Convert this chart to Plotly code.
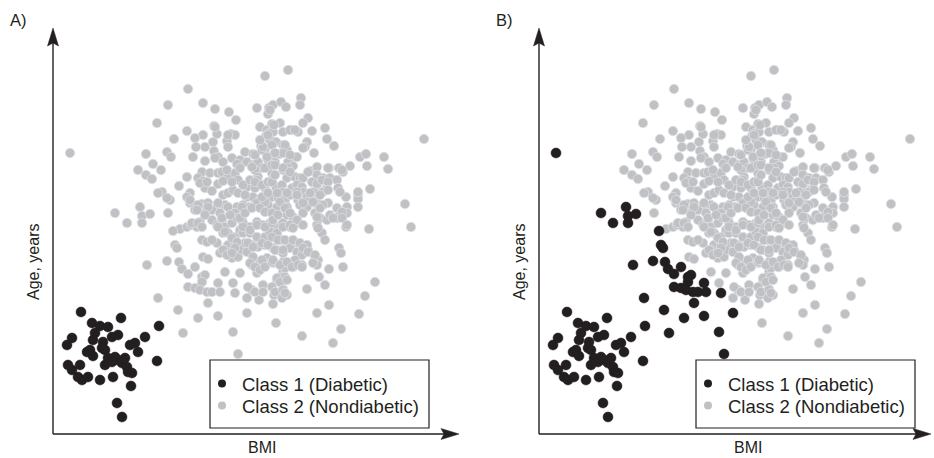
import plotly.graph_objects as go

# ---------------- data (arbitrary BMI / age units) ----------------
# Class 1 (Diabetic) in both panels
diabetic = [(26,120),(66,114),(37,109),(45,106),(53,105),(104,106),(63,97),(57,95),(40,99),(38,92),
            (90,95),(17,94),(12,87),(48,90),(47,84),(50,82),(75,87),(80,89),(83,80),(32,80),(35,82),
            (38,76),(53,74),(60,75),(63,72),(70,74),(67,69),(102,71),(13,67),(17,62),(25,67),(50,67),
            (57,70),(72,65),(73,60),(77,59),(23,55),(27,52),(33,55),(45,52),(58,55),(76,46),(62,29),(67,15)]

# Nondiabetic in panel A, classified as Diabetic in panel B
reclassified = [(15,279),(60,219),(72,209),(85,225),(87,216),(95,218),(87,209),(118,201),(120,187),(122,184),
                (92,167),(112,171),(124,170),(127,163),(133,158),(140,165),(147,155),(150,157),(147,150),
                (133,145),(140,144),(145,142),(152,140),(157,140),(163,149),(165,140),(103,134),(153,129),
                (123,122),(143,114),(163,116),(180,139),(192,119),(128,99),(178,100),(183,78)]

# Class 2 (Nondiabetic) in both panels
nondiabetic = [
 (133,343),(113,327),(148,329),(160,323),(174,320),(181,312),(102,309),(132,301),(159,306),(162,298),(148,297),
 (140,294),(176,298),(180,297),(119,293),(172,291),(158,290),(91,278),(112,280),(116,275),(138,275),(150,285),
 (141,285),(173,285),(159,281),(163,275),(177,274),(185,272),(83,262),(98,268),(106,262),(91,257),(97,253),
 (150,271),(132,255),(147,260),(155,259),(163,259),(167,260),(143,254),(148,251),(173,255),(180,259),(183,252),
 (124,246),(107,240),(103,239),(115,232),(112,234),(135,239),(132,235),(150,244),(157,241),(163,248),(168,237),
 (173,239),(178,242),(135,229),(140,226),(147,228),(153,229),(163,226),(170,227),(182,225),
 (210,356),(233,362),(202,324),(214,324),(218,327),(226,330),(231,325),(246,334),(245,327),(213,318),(253,314),
 (248,309),(205,305),(212,302),(217,308),(225,309),(214,299),(218,300),(228,300),(237,302),(243,300),(257,301),
 (270,304),(272,293),(279,286),(369,293),(252,290),(250,285),(259,279),(211,296),(215,292),(221,290),(228,287),
 (206,286),(210,283),(190,280),(198,278),(218,277),(225,278),(232,282),(238,275),(213,272),(220,270),(233,270),
 (238,266),(305,275),(311,278),(329,275),(312,266),(333,263),(295,266),(274,264),(284,264),(288,260),(255,261),
 (262,265),(262,257),(192,270),(198,267),(203,270),(207,264),(200,262),(217,259),(217,252),(228,262),(233,264),
 (235,257),(232,254),(240,255),(245,254),(203,255),(202,252),(268,254),(275,254),(282,252),(257,250),(262,248),
 (192,245),(200,244),(210,244),(221,245),(227,247),(228,240),(237,244),(242,247),(247,245),(248,240),(257,237),
 (263,239),(270,242),(283,244),(315,243),(303,237),(303,233),(291,235),(192,235),(198,235),(205,232),(217,235),
 (223,234),(230,232),(235,237),(243,232),(252,235),(253,230),(262,229),(273,229),(282,224),(292,225),(350,228),
 (188,227),(195,225),(205,225),(213,227),(222,225),(232,225),(245,227),(252,225),(303,225),
 (113,219),(140,222),(150,219),(157,222),(165,219),(173,225),(180,219),(187,225),(125,203),(132,205),(136,207),
 (142,205),(145,210),(157,212),(162,207),(167,212),(170,205),(177,209),(182,214),(187,212),(168,199),(173,199),
 (180,195),(185,202),(147,192),(152,190),(162,189),(173,187),(180,189),(183,182),(148,175),(153,173),(165,179),
 (170,182),(177,174),(183,175),(187,182),(170,160),(185,159),(178,149),
 (356,205),(314,203),(291,205),(202,229),(210,230),(225,230),(260,229),(268,227),(292,219),(232,217),(238,215),
 (243,209),(248,219),(260,219),(265,214),(272,212),(275,217),(282,214),(285,217),(188,209),(195,205),(202,210),
 (208,207),(215,209),(222,205),(228,209),(235,205),(262,207),(267,199),(270,192),(188,199),(195,199),(202,195),
 (210,195),(215,200),(222,199),(190,189),(197,187),(203,185),(210,187),(218,184),(227,192),(233,190),(240,189),
 (245,185),(253,182),(192,180),(222,182),(228,179),(235,184),(242,180),(247,177),(260,175),(263,172),(262,167),
 (284,184),(286,179),(288,165),(274,163),(198,174),(205,170),(212,174),(197,167),(205,164),(202,159),(218,169),
 (228,170),(235,167),(240,172),(238,165),(247,167),(228,160),(230,164),(222,152),(227,155),(264,155),(270,147),
 (252,143),(208,147),(197,142),(192,134),(204,132),(219,137),(218,128),(228,143),(232,137),(227,134),(274,127),
 (262,119),(221,109),(247,96),(286,103),(278,89),(304,118),(310,136),(320,150),
 (160,305),(173,297),(160,274),(168,270),(182,268),(200,277),(207,282),(212,275),(208,285),(205,292),(213,297),
 (217,287),(197,265),(210,264),(217,267),(172,262),(185,264),(145,249),(152,250),(168,251),(177,250),(188,247),
 (195,252),(200,250),(207,247),(213,250),
 (215,322),(248,284),(242,275),(219,307),(235,302),(240,302),(230,287),(228,279),(220,279),(235,277),(220,267),
 (228,264),(235,260),(248,254),(253,260),(273,264),(287,262),(267,252),(273,250),(217,250),(220,257),(242,240),
 (258,240),(268,240),(303,240),
 (183,239),(190,237),(207,235),(213,239),(135,232),(143,227),(153,225),(163,229),(142,222),(150,217),(167,214),
 (175,217),(185,214),(190,219),(197,224),(205,224),(210,220),(217,219),(137,209),(143,209),(147,205),(163,205),
 (170,200),(177,194),(182,190),(188,205),(195,202),(202,207),(210,205),(217,209),(157,192),(168,182),(180,184),
 (193,189),(198,185),(207,189),(213,187),(217,195),(172,177),(177,179),(198,175),(195,169),(200,165),(207,172),
 (205,162),(210,165),(217,170),(193,145),(200,140),(208,140),(217,145),
 (222,239),(232,239),(242,237),(255,239),(265,237),(273,242),(285,240),(230,224),(248,229),(258,230),(265,224),
 (287,220),(218,212),(223,217),(235,219),(242,212),(248,207),(262,215),(278,214),(287,214),(292,207),(228,205),
 (235,207),(238,204),(263,204),(223,192),(230,192),(238,192),(245,189),(252,187),(220,182),(228,182),(248,184),
 (253,180),(260,177),(258,169),(218,172),(225,167),(232,170),(237,165),(243,167),(247,165),(222,154),(230,155),
 (225,150),(232,152),(220,140),(228,142),(230,139)]

class_names = ["Class 1 (Diabetic)", "Class 2 (Nondiabetic)"]
panel_titles = ["A)", "B)"]
x_title = "BMI"
y_title = "Age, years"

# ---------------- styling ----------------
W, H = 934, 458
INK = "#231f20"
GRAY = "#c0c1c5"
FONT = "Liberation Sans, Arial, Helvetica, sans-serif"
PANEL_SHIFT = 486  # px between the two panels

def px(x):
    return x / W

def py(y):
    return 1 - y / H

def xs(pts):
    return [p[0] for p in pts]

def ys(pts):
    return [p[1] for p in pts]

fig = go.Figure()

panels = [
    dict(xa="x", ya="y", legs=("legend", "legend2"), gray=nondiabetic + reclassified, black=diabetic),
    dict(xa="x2", ya="y2", legs=("legend3", "legend4"), gray=nondiabetic, black=diabetic + reclassified),
]

for p in panels:
    # legend-only entries (one legend per item for exact row spacing)
    fig.add_trace(go.Scatter(x=[None], y=[None], mode="markers", name=class_names[0],
                             marker=dict(size=8, color=INK), xaxis=p["xa"], yaxis=p["ya"],
                             legend=p["legs"][0]))
    fig.add_trace(go.Scatter(x=[None], y=[None], mode="markers", name=class_names[1],
                             marker=dict(size=8, color=GRAY), xaxis=p["xa"], yaxis=p["ya"],
                             legend=p["legs"][1]))
    fig.add_trace(go.Scatter(x=xs(p["gray"]), y=ys(p["gray"]), mode="markers", showlegend=False,
                             marker=dict(size=9.5, color=GRAY, line=dict(color="#dedfe2", width=0.8)),
                             xaxis=p["xa"], yaxis=p["ya"], hoverinfo="skip"))
    fig.add_trace(go.Scatter(x=xs(p["black"]), y=ys(p["black"]), mode="markers", showlegend=False,
                             marker=dict(size=10, color=INK, line=dict(color=INK, width=0.5)),
                             xaxis=p["xa"], yaxis=p["ya"], hoverinfo="skip"))

ax_common = dict(visible=False, showgrid=False, zeroline=False, fixedrange=True)
ydom = [py(434), py(29)]

shapes = []
annotations = []
for i in range(2):
    o = i * PANEL_SHIFT
    x0 = 53 + o
    # axis lines
    shapes.append(dict(type="line", xref="paper", yref="paper", x0=px(x0), y0=py(434),
                       x1=px(x0), y1=py(42), line=dict(color=INK, width=1.4)))
    tipx = 459 + o if i == 0 else 931
    shapes.append(dict(type="line", xref="paper", yref="paper", x0=px(x0), y0=py(434),
                       x1=px(tipx - 14), y1=py(434), line=dict(color=INK, width=1.4)))
    # arrow heads
    shapes.append(dict(type="path", xref="paper", yref="paper",
                       path=f"M {px(x0)},{py(28)} L {px(x0+5.5)},{py(46)} L {px(x0)},{py(43)} "
                            f"L {px(x0-5.5)},{py(46)} Z",
                       fillcolor=INK, line=dict(color=INK, width=0.5)))
    shapes.append(dict(type="path", xref="paper", yref="paper",
                       path=f"M {px(tipx)},{py(434)} L {px(tipx-18)},{py(428.5)} L {px(tipx-15)},{py(434)} "
                            f"L {px(tipx-18)},{py(439.5)} Z",
                       fillcolor=INK, line=dict(color=INK, width=0.5)))
    # legend box
    shapes.append(dict(type="rect", xref="paper", yref="paper", x0=px(210 + o), x1=px(429 + o),
                       y0=py(428), y1=py(360), line=dict(color=INK, width=1.2), fillcolor="rgba(0,0,0,0)"))
    # texts
    annotations.append(dict(text=panel_titles[i], xref="paper", yref="paper", x=px(8 + o), y=py(20),
                            xanchor="left", yanchor="middle", showarrow=False,
                            font=dict(size=16.5, family=FONT, color=INK)))
    annotations.append(dict(text=y_title, xref="paper", yref="paper", x=px(33 + o), y=py(262),
                            xanchor="center", yanchor="middle", textangle=-90, showarrow=False,
                            font=dict(size=16, family=FONT, color=INK)))
    annotations.append(dict(text=x_title, xref="paper", yref="paper", x=px(262 + o), y=py(447),
                            xanchor="center", yanchor="middle", showarrow=False,
                            font=dict(size=16, family=FONT, color=INK)))

leg_common = dict(xanchor="left", yanchor="top", bgcolor="rgba(0,0,0,0)", borderwidth=0,
                  font=dict(size=18.5, family=FONT, color=INK), tracegroupgap=0,
                  itemclick=False, itemdoubleclick=False, traceorder="normal")

fig.update_layout(
    width=W, height=H, margin=dict(l=0, r=0, t=0, b=0),
    paper_bgcolor="white", plot_bgcolor="white",
    xaxis=dict(domain=[px(53), px(458)], range=[-2, 403], anchor="y", **ax_common),
    yaxis=dict(domain=ydom, range=[-2, 403], anchor="x", **ax_common),
    xaxis2=dict(domain=[px(53 + PANEL_SHIFT), 1.0], range=[-2, 393], anchor="y2", **ax_common),
    yaxis2=dict(domain=ydom, range=[-2, 403], anchor="x2", **ax_common),
    legend=dict(x=px(202), y=py(365), **leg_common),
    legend2=dict(x=px(202), y=py(387), **leg_common),
    legend3=dict(x=px(202 + PANEL_SHIFT), y=py(365), **leg_common),
    legend4=dict(x=px(202 + PANEL_SHIFT), y=py(387), **leg_common),
    shapes=shapes, annotations=annotations, showlegend=True,
)

fig.write_html("out.html")
